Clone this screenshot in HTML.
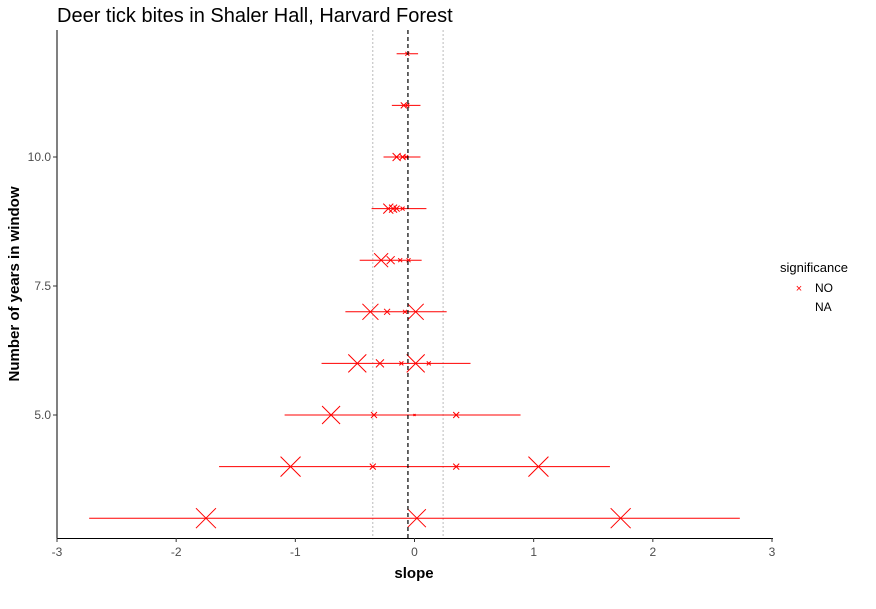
<!DOCTYPE html>
<html><head><meta charset="utf-8"><style>
body{margin:0;background:#fff;}
svg text{font-family:"Liberation Sans",Arial,sans-serif;}
</style></head><body>
<svg id="chart" width="876" height="604" xmlns="http://www.w3.org/2000/svg">
<text x="57" y="22" font-size="20" fill="#000">Deer tick bites in Shaler Hall, Harvard Forest</text>
<g id="grid"></g>
<g id="marks"></g>
<line x1="57" y1="30" x2="57" y2="538.5" stroke="#000" stroke-width="1"/>
<line x1="57" y1="538.5" x2="773" y2="538.5" stroke="#000" stroke-width="1"/>
<g id="axes"></g>
<text x="414" y="578" font-size="15" font-weight="bold" text-anchor="middle">slope</text>
<text transform="translate(19,284) rotate(-90)" font-size="15" font-weight="bold" text-anchor="middle">Number of years in window</text>
<g>
<text x="780" y="272" font-size="13">significance</text>
<text x="799" y="292" font-size="11" fill="red" text-anchor="middle">×</text>
<text x="815" y="292" font-size="12">NO</text>
<text x="815" y="311" font-size="12">NA</text>
</g>
</svg>
<script>
const rows = [3,4,5,6,7,8,9,10,11,12];
const lineLo = [-2.73,-1.64,-1.09,-0.78,-0.58,-0.46,-0.36,-0.26,-0.19,-0.15];
const lineHi = [2.73,1.64,0.89,0.47,0.27,0.06,0.10,0.05,0.05,0.03];
const pointRow = [3,3,3,4,4,4,4,5,5,5,5,6,6,6,6,6,7,7,7,7,8,8,8,8,9,9,9,9,10,10,10,11,11,12];
const pointSlope = [-1.75,0.02,1.73,-1.04,-0.35,0.35,1.04,-0.70,-0.34,0.0,0.35,-0.48,-0.29,-0.11,0.01,0.12,-0.37,-0.23,-0.08,0.01,-0.28,-0.20,-0.12,-0.05,-0.22,-0.18,-0.15,-0.10,-0.15,-0.10,-0.07,-0.09,-0.06,-0.06];
const pointWeight = [10,9,10,10,3,3,10,9,3,1,3,9,4,2,9,2,8,3,2,8,7,4,2,2,5,4,3,2,4,3,2,3,2,2];
const meanSlope = -0.055;
const ciLo = -0.35, ciHi = 0.24;
const xTicks = [-3,-2,-1,0,1,2,3];
const yTicks = [5.0,7.5,10.0];
const yTickLabels = ["5.0","7.5","10.0"];

const NS="http://www.w3.org/2000/svg";
const xs = v => 57 + (v+3)*(715/6);
const ys = v => 157 - (v-10)*51.6;
function mk(tag, attrs, parent){const e=document.createElementNS(NS,tag);for(const k in attrs)e.setAttribute(k,attrs[k]);parent.appendChild(e);return e;}
const grid=document.getElementById('grid'), marks=document.getElementById('marks'), axes=document.getElementById('axes');
[ciLo,ciHi].forEach((v,i)=>{
  const l=mk('line',{x1:xs(v),x2:xs(v),y1:30,y2:538,stroke:'#bbb','stroke-width':1,'stroke-dasharray':'2,2'},grid);
  
  
});
rows.forEach((r,i)=>{
  const l=mk('line',{x1:xs(lineLo[i]),x2:xs(lineHi[i]),y1:ys(r),y2:ys(r),stroke:'red','stroke-width':1},marks);
  
  
});
pointSlope.forEach((s,i)=>{
  const cx=xs(s), cy=ys(pointRow[i]), h=pointWeight[i];
  const p=mk('path',{d:`M${cx-h},${cy-h}L${cx+h},${cy+h}M${cx-h},${cy+h}L${cx+h},${cy-h}`,stroke:'red','stroke-width':1,fill:'none'},marks);
  
  
});
const ml=mk('line',{x1:xs(meanSlope),x2:xs(meanSlope),y1:30,y2:538,stroke:'#000','stroke-width':1.2,'stroke-dasharray':'4,3'},marks);


xTicks.forEach(t=>{
  const tk=mk('line',{x1:xs(t),x2:xs(t),y1:538,y2:542,stroke:'#333'},axes);
  
  
  const tx=mk('text',{x:xs(t),y:556,'font-size':12,fill:'#4d4d4d','text-anchor':'middle'},axes);
  tx.textContent=t;
  
  
});
yTicks.forEach((t,i)=>{
  const tk=mk('line',{x1:53,x2:57,y1:ys(t),y2:ys(t),stroke:'#333'},axes);
  
  
  const tx=mk('text',{x:51,y:ys(t)+4,'font-size':12,fill:'#4d4d4d','text-anchor':'end'},axes);
  tx.textContent=yTickLabels[i];
  
  
});
</script>
</body></html>
